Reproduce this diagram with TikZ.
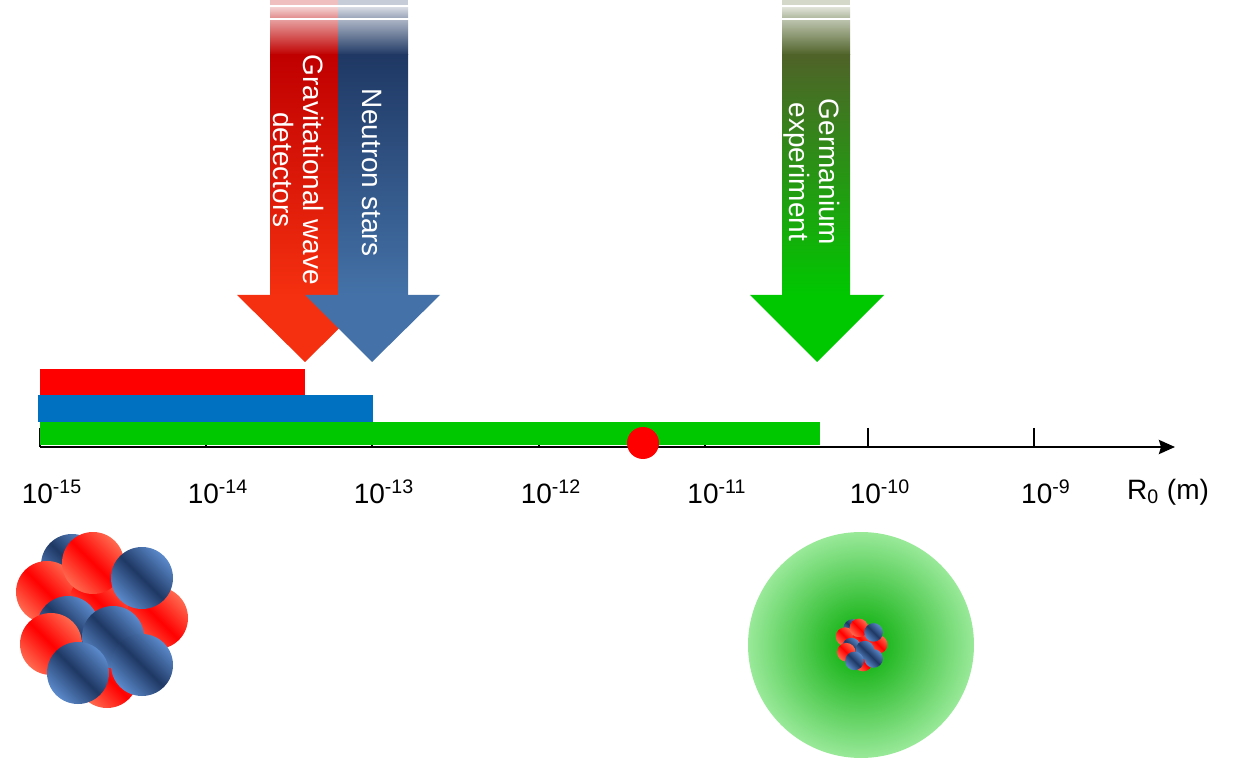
\documentclass[tikz,border=0pt]{standalone}
\usepackage{fontspec}
\setmainfont{Liberation Sans}
\usetikzlibrary{positioning,arrows.meta}
\definecolor{rosso}{HTML}{F53010}
\definecolor{rossoscuro}{HTML}{C00000}
\definecolor{blu}{HTML}{4472A8}
\definecolor{bluscuro}{HTML}{1F3864}
\definecolor{verde}{HTML}{00C800}
\definecolor{verdescuro}{HTML}{4F6228}
\definecolor{barrablu}{HTML}{0070C0}
\definecolor{arancio}{HTML}{FF6A50}
\definecolor{azzurro}{HTML}{5B8ACB}
\tikzset{
  pallarossa/.style={left color=arancio,right color=arancio,middle color=red,shading angle=-45},
  pallablu/.style={left color=azzurro,right color=azzurro,middle color=bluscuro,shading angle=-45},
  etichetta/.style={text=white,font=\fontsize{14}{15}\selectfont,align=center,rotate=-90},
  tacca/.style={font=\fontsize{14}{15}\selectfont}
}
% nucleo (centro circa 100,620)
\newcommand{\nucleo}{
  \shade[pallablu] (72,565) circle (31);
  \shade[pallarossa] (47,592) circle (31);
  \shade[pallarossa] (107,677) circle (31);
  \shade[pallarossa] (100,603) circle (31);
  \shade[pallarossa] (93,563) circle (31);
  \shade[pallarossa] (157,618) circle (31);
  \shade[pallablu] (142,578) circle (31);
  \shade[pallablu] (68,627) circle (31);
  \shade[pallablu] (113,637) circle (31);
  \shade[pallarossa] (51,644) circle (31);
  \shade[pallablu] (78,673) circle (31);
  \shade[pallablu] (142,665) circle (31);
}
% freccia: x sinistra, x destra, testa sinistra, testa destra, punta, colore scuro, colore
\newcommand{\freccia}[7]{
  \fill[#6!25] (#1,0) rectangle (#2,5);
  \shade[top color=#6!20,bottom color=#6!45] (#1,8) rectangle (#2,18);
  \shade[top color=#6!40,bottom color=#6] (#1,21) rectangle (#2,55);
  \shade[top color=#6,bottom color=#7] (#1,55) rectangle (#2,296);
  \fill[#7] (#3,295) -- (#4,295) -- (#5,362) -- cycle;
}
\begin{document}
\begin{tikzpicture}[x=0.5pt,y=-0.5pt]
    \useasboundingbox (0,0) rectangle (1254,759);

    % Frecce
    \freccia{270}{338}{237}{373}{305}{rossoscuro}{rosso}
    \freccia{338}{408}{305}{440}{372}{bluscuro}{blu}
    \freccia{782}{850}{750}{884}{817}{verdescuro}{verde}
    \node[etichetta] (gw) at (299,170) {Gravitational wave\\detectors};
    \node[etichetta] (ns) at (372,173) {Neutron stars};
    \node[etichetta] (ge) at (812,172) {Germanium\\experiment};

    % Asse
    \coordinate (inizio) at (40,447);
    \coordinate (fine) at (1175,447);
    \draw[line width=1.3pt,-{Stealth[length=8pt,width=7pt,inset=1pt]}] (inizio) -- (fine);
    \foreach \x/\e in {40/-15,206/-14,372/-13,539/-12,705/-11,868/-10,1034/-9} {
        \draw[line width=1.3pt] (\x,428) -- (\x,447);
        \node[tacca] at (\x+12,492) {10\textsuperscript{\e}};
    }
    \node[tacca] (r0) at (1168,492) {R\textsubscript{0} (m)};

    % Barre
    \fill[red] (40,369) rectangle (305,395);
    \fill[barrablu] (38,395) rectangle (373,422);
    \fill[verde] (40,422) rectangle (820,445);
    \fill[red] (643,443) circle (16);

    % Nuclei
    \nucleo
    \shade[inner color=verde!85!black,outer color=verde!40] (861,645) circle (113);
    \begin{scope}[shift={(831,459)},scale=0.3]
        \nucleo
    \end{scope}

\end{tikzpicture}
\end{document}
